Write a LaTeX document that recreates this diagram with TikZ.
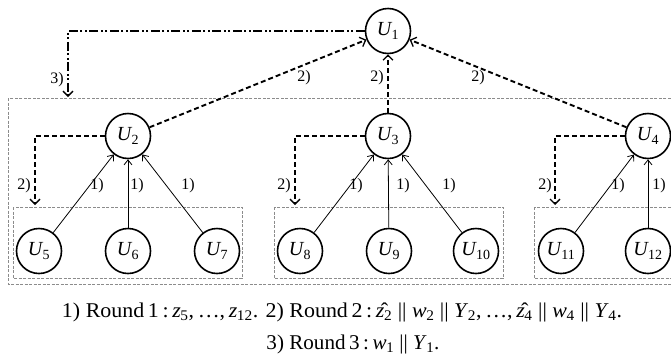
\documentclass[tikz,border=0pt]{standalone}
\usepackage{fontspec}
\setmainfont{Liberation Serif}
\usetikzlibrary{arrows.meta}
\newcommand\uu[1]{\textit{U}\kern-0.03em\textsubscript{#1}}
\newcommand\iv[2]{\textit{#1}\kern-0.02em\textsubscript{#2}}
\newcommand\hz[1]{\^{\textit{z}}\kern-0.02em\textsubscript{#1}}
\begin{document}
\begin{tikzpicture}[x=1pt,y=-1pt,
 unode/.style={circle,draw,line width=1.6pt,minimum size=45pt,inner sep=0pt,font=\fontsize{20}{20}\selectfont},
 lbl/.style={font=\fontsize{16}{16}\selectfont,inner sep=0pt},
 grpbox/.style={draw=black!45,line width=0.7pt,dash pattern=on 3pt off 1.5pt},
 dasharr/.style={line width=1.9pt,dash pattern=on 5pt off 3pt,-{Straight Barb[length=5pt,width=10pt,line width=1.3pt]}},
 ddarr/.style={line width=1.5pt,dash pattern=on 9pt off 2.5pt on 2pt off 2.5pt on 2pt off 2.5pt,-{Straight Barb[length=5pt,width=10pt,line width=1.3pt]}},
 thinarr/.style={line width=0.8pt,-{Straight Barb[length=5pt,width=8pt]}},
 captxt/.style={font=\fontsize{21}{21}\selectfont,inner sep=0pt,anchor=base}
]
\clip (0,0) rectangle (671,354);
% group boxes
\draw[grpbox] (8,98) rectangle (700,284);
\draw[grpbox] (13,207) rectangle (242,278);
\draw[grpbox] (274,207) rectangle (503,278);
\draw[grpbox] (534,207) rectangle (700,278);
% nodes
\node[unode] (U1) at (388,31) {\uu{1}};
\node[unode] (U2) at (128,136) {\uu{2}};
\node[unode] (U3) at (388,136) {\uu{3}};
\node[unode] (U4) at (648,136) {\uu{4}};
\node[unode] (U5) at (39,251) {\uu{5}};
\node[unode] (U6) at (128,251) {\uu{6}};
\node[unode] (U7) at (217,251) {\uu{7}};
\node[unode] (U8) at (300,251) {\uu{8}};
\node[unode] (U9) at (389,251) {\uu{9}};
\node[unode] (U10) at (476,251) {\uu{10}};
\node[unode] (U11) at (561,251) {\uu{11}};
\node[unode] (U12) at (648,251) {\uu{12}};
% free ends
\coordinate (c3) at (68,97);
\coordinate (c2a) at (35,205);
\coordinate (c2b) at (295,205);
\coordinate (c2c) at (555,205);
% round 3
\draw[ddarr] (U1.west) -| (c3);
% round 2
\draw[dasharr] (U2) -- (U1);
\draw[dasharr] (U3) -- (U1);
\draw[dasharr] (U4) -- (U1);
\draw[dasharr] (U2.west) -| (c2a);
\draw[dasharr] (U3.west) -| (c2b);
\draw[dasharr] (U4.west) -| (c2c);
% round 1
\draw[thinarr] (U5) -- (U2);
\draw[thinarr] (U6) -- (U2);
\draw[thinarr] (U7) -- (U2);
\draw[thinarr] (U8) -- (U3);
\draw[thinarr] (U9) -- (U3);
\draw[thinarr] (U10) -- (U3);
\draw[thinarr] (U11) -- (U4);
\draw[thinarr] (U12) -- (U4);
% labels
\node[lbl] (l3) at (57,80) {3)};
\node[lbl] (l2a) at (304,78) {2)};
\node[lbl] (l2b) at (377,78) {2)};
\node[lbl] (l2c) at (478,78) {2)};
\node[lbl] (l2d) at (24,186) {2)};
\node[lbl] (l2e) at (284,186) {2)};
\node[lbl] (l2f) at (545,186) {2)};
\node[lbl] (l1a) at (97,186) {1)};
\node[lbl] (l1b) at (137,186) {1)};
\node[lbl] (l1c) at (188,186) {1)};
\node[lbl] (l1d) at (356,186) {1)};
\node[lbl] (l1e) at (403,186) {1)};
\node[lbl] (l1f) at (449,186) {1)};
\node[lbl] (l1g) at (618,186) {1)};
\node[lbl] (l1h) at (659,186) {1)};
% caption
\node[captxt] (cap1) at (342,317) {\resizebox{560pt}{\height}{1) Round\,1\,:\,\iv{z}{5},\,\ldots,\,\iv{z}{12}. 2) Round\,2\,:\,\hz{2} || \iv{w}{2} || \iv{Y}{2},\,\ldots,\,\hz{4} || \iv{w}{4} || \iv{Y}{4}.}};
\node[captxt] (cap2) at (353,349) {\resizebox{173pt}{\height}{3) Round\,3\,:\,\iv{w}{1} || \iv{Y}{1}.}};
\end{tikzpicture}
\end{document}
